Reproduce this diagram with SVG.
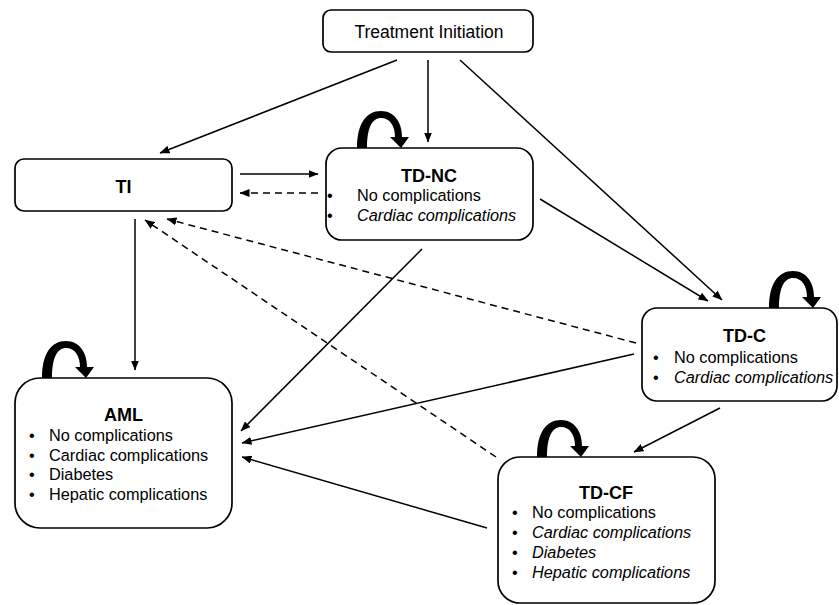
<svg xmlns="http://www.w3.org/2000/svg" width="839" height="605" viewBox="0 0 839 605">
<style>
.box{fill:#fff;stroke:#000;stroke-width:1.7}
.t{font-family:"Liberation Sans",Arial,sans-serif;font-size:16.3px;fill:#000}
.h{font-family:"Liberation Sans",Arial,sans-serif;font-size:18px;font-weight:bold;fill:#000;text-anchor:middle}
.i{font-style:italic}
.c{fill:none;stroke:#000;stroke-width:1.5}
.d{stroke-dasharray:7 5}
.loop{fill:#000}
</style>
<defs>
<marker id="ah" markerWidth="10" markerHeight="8" refX="9.5" refY="4" orient="auto" markerUnits="userSpaceOnUse">
<path d="M0,0 L10,4 L0,8 Z" fill="#000"/>
</marker>
<path id="loopShape" d="M0,0 C0,-24 9,-37 24,-37 C37,-37 45,-26 45,-11 L52,-11 L44,0 L33,-11 L38,-11 C38,-22 33,-30 24,-30 C15,-30 10,-20 10,0 Z"/>
</defs>
<g id="connectors">
<line class="c" x1="397" y1="60" x2="160" y2="153" marker-end="url(#ah)"/>
<line class="c" x1="428" y1="60" x2="428" y2="142" marker-end="url(#ah)"/>
<line class="c" x1="460" y1="60" x2="722" y2="300" marker-end="url(#ah)"/>
<line class="c" x1="240" y1="174" x2="318" y2="174" marker-end="url(#ah)"/>
<line class="c d" x1="318" y1="193" x2="240" y2="193" marker-end="url(#ah)"/>
<line class="c" x1="135" y1="219" x2="135" y2="370" marker-end="url(#ah)"/>
<line class="c" x1="540" y1="199" x2="708" y2="301" marker-end="url(#ah)"/>
<line class="c" x1="422" y1="249" x2="241" y2="431" marker-end="url(#ah)"/>
<line class="c d" x1="636" y1="343" x2="167" y2="219" marker-end="url(#ah)"/>
<line class="c" x1="634" y1="354" x2="242" y2="443" marker-end="url(#ah)"/>
<line class="c d" x1="496" y1="457" x2="145" y2="220" marker-end="url(#ah)"/>
<line class="c" x1="487" y1="528" x2="242" y2="457" marker-end="url(#ah)"/>
<line class="c" x1="720" y1="408" x2="634" y2="452" marker-end="url(#ah)"/>
<use href="#loopShape" class="loop" x="357" y="148"/>
<use href="#loopShape" class="loop" x="769" y="308"/>
<use href="#loopShape" class="loop" x="537" y="457"/>
<use href="#loopShape" class="loop" x="42" y="378"/>
</g>
<g id="treatment-initiation">
<rect class="box" x="323" y="10" width="210" height="42" rx="8"/>
<text class="t" x="429" y="38" text-anchor="middle" style="font-size:17.5px">Treatment Initiation</text>
</g>
<g id="TI">
<rect class="box" x="15" y="159" width="217" height="52" rx="9"/>
<text class="h" x="123.5" y="193">TI</text>
</g>
<g id="TD-NC">
<rect class="box" x="326" y="148" width="207" height="92" rx="16"/>
<text class="h" x="429" y="182">TD-NC</text>
<text class="t" y="201"><tspan x="327">•</tspan><tspan x="357">No complications</tspan></text>
<text class="t" y="221"><tspan x="327">•</tspan><tspan x="357" class="i">Cardiac complications</tspan></text>
</g>
<g id="TD-C">
<rect class="box" x="642" y="308" width="195" height="93" rx="15"/>
<text class="h" x="744.5" y="342">TD-C</text>
<text class="t" y="363"><tspan x="653">•</tspan><tspan x="674">No complications</tspan></text>
<text class="t" y="383"><tspan x="653">•</tspan><tspan x="674" class="i">Cardiac complications</tspan></text>
</g>
<g id="TD-CF">
<rect class="box" x="498" y="457" width="217" height="146" rx="22"/>
<text class="h" x="606" y="499">TD-CF</text>
<text class="t" y="518"><tspan x="512">•</tspan><tspan x="532">No complications</tspan></text>
<text class="t" y="538"><tspan x="512">•</tspan><tspan x="532" class="i">Cardiac complications</tspan></text>
<text class="t" y="558"><tspan x="512">•</tspan><tspan x="532" class="i">Diabetes</tspan></text>
<text class="t" y="578"><tspan x="512">•</tspan><tspan x="532" class="i">Hepatic complications</tspan></text>
</g>
<g id="AML">
<rect class="box" x="15" y="378" width="217" height="150" rx="25"/>
<text class="h" x="123.5" y="421">AML</text>
<text class="t" y="441"><tspan x="29">•</tspan><tspan x="49">No complications</tspan></text>
<text class="t" y="460.5"><tspan x="29">•</tspan><tspan x="49">Cardiac complications</tspan></text>
<text class="t" y="480"><tspan x="29">•</tspan><tspan x="49">Diabetes</tspan></text>
<text class="t" y="499.5"><tspan x="29">•</tspan><tspan x="49">Hepatic complications</tspan></text>
</g>
</svg>
